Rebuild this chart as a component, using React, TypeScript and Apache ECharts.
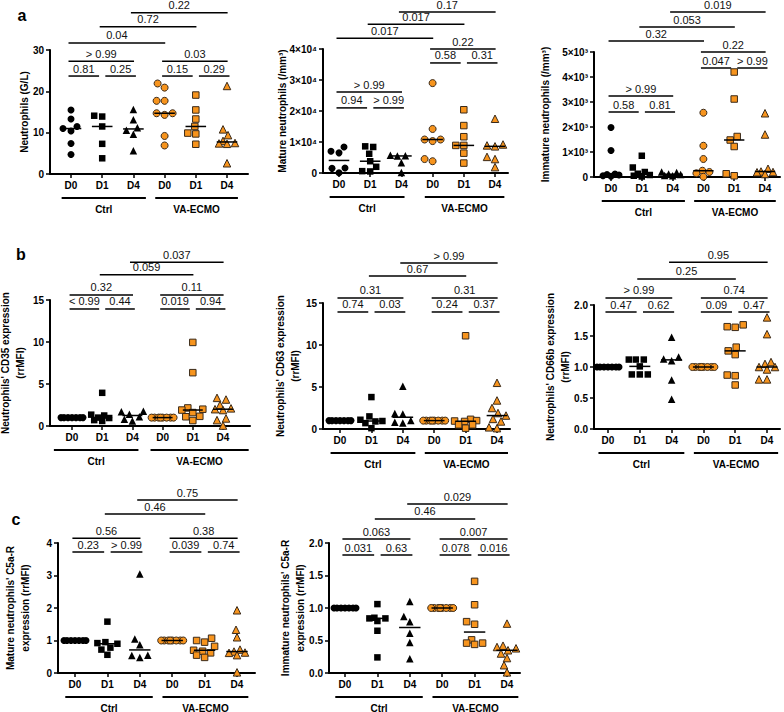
import { useEffect, useRef } from "react";
import * as echarts from "echarts";

// ---------- categories ----------
const days = ["D0", "D1", "D4", "D0", "D1", "D4"];
const groups = ["Ctrl", "VA-ECMO"];

// ---------- values (Ctrl D0, D1, D4, VA-ECMO D0, D1, D4) ----------
const neutrophilsGL = [
  [15.5, 13.3, 11.5, 11.0, 10.4, 7.4, 4.7],
  [14.1, 13.9, 11.5, 7.3, 3.8],
  [15.6, 13.1, 11.2, 10.6, 9.6, 5.6],
  [21.9, 20.9, 17.7, 17.7, 14.7, 14.7, 14.3, 9.2, 6.9],
  [19.1, 15.5, 13.3, 11.5, 9.9, 9.7, 7.2],
  [21.3, 10.8, 9.4, 8.0, 7.5, 7.4, 7.3, 2.6],
];
const matureNeut = [
  [8400, 7000, 6500, 1600, 1500, 100],
  [8600, 8400, 6200, 3800, 2000, 600, 500],
  [5700, 5600, 5500, 3300, 200],
  [29000, 14200, 10800, 10800, 10300, 4500, 3800],
  [20400, 15300, 11700, 8900, 8900, 6400, 3200],
  [17500, 9200, 8900, 8600, 5200, 4500, 1900],
];
const immatureNeut = [
  [1980, 1060, 120, 100, 80, 50, 30],
  [850, 380, 200, 130, 80, 50, 20],
  [200, 180, 120, 100, 60, 50],
  [2570, 1250, 720, 250, 200, 150, 10],
  [4200, 3120, 1620, 1480, 1220, 130, 50],
  [2550, 1700, 330, 220, 200, 190, 120],
];
const cd35 = [
  [1, 1, 1, 1, 1, 1, 1],
  [3.95, 1.35, 1.25, 1.0, 0.95, 0.7, 0.6],
  [1.75, 1.7, 1.4, 1.1, 0.8, 0.6],
  [1, 1, 1, 1, 1, 1, 1, 1],
  [9.95, 6.35, 2.15, 2.0, 1.9, 1.6, 1.15, 1.1, 0.65],
  [3.35, 3.15, 2.5, 2.1, 2.0, 1.9, 0.9, 0.7, 0.05],
];
const cd63 = [
  [1, 1, 1, 1, 1, 1, 1],
  [3.8, 1.5, 1.1, 0.95, 0.9, 0.7, 0.1],
  [5.1, 1.85, 1.8, 1.0, 0.8, 0.7],
  [1, 1, 1, 1, 1, 1, 1, 1],
  [11.1, 1.15, 1.0, 0.95, 0.9, 0.5, 0.5, 0.1],
  [5.5, 3.4, 2.5, 1.9, 1.6, 1.2, 0.9, 0.2, 0.1],
];
const cd66b = [
  [1, 1, 1, 1, 1, 1, 1],
  [1.12, 1.12, 1.12, 1.01, 0.88, 0.88, 0.88],
  [1.48, 1.16, 1.13, 1.1, 0.79, 0.48],
  [1, 1, 1, 1, 1, 1, 1, 1],
  [1.68, 1.65, 1.64, 1.32, 1.26, 1.2, 0.87, 0.86, 0.71],
  [1.8, 1.53, 1.08, 1.05, 1.0, 1.0, 0.96, 0.8, 0.8],
];
const matureC5aR = [
  [1, 1, 1, 1, 1, 1, 1],
  [1.58, 0.95, 0.92, 0.9, 0.78, 0.72, 0.56],
  [3.05, 1.05, 0.87, 0.55, 0.54, 0.48],
  [1, 1, 1, 1, 1, 1, 1, 1],
  [1.07, 1.0, 0.95, 0.82, 0.7, 0.67, 0.62, 0.55, 0.48],
  [1.93, 1.33, 1.1, 0.72, 0.66, 0.63, 0.62, 0.55, 0.02],
];
const immatureC5aR = [
  [1, 1, 1, 1, 1, 1, 1],
  [1.06, 0.85, 0.84, 0.84, 0.8, 0.65, 0.24],
  [1.1, 0.87, 0.79, 0.61, 0.47, 0.22],
  [1, 1, 1, 1, 1, 1, 1, 1],
  [1.41, 1.05, 0.79, 0.75, 0.51, 0.46, 0.46, 0.44],
  [0.76, 0.42, 0.4, 0.38, 0.35, 0.3, 0.23, 0.12, 0.01],
];

// ---------- p-values: [from category, to category, label] ----------
const neutrophilsGLP: [number, number, string][] = [
  [0, 1, "0.81"], [1, 2, "0.25"], [0, 2, "> 0.99"],
  [3, 4, "0.15"], [4, 5, "0.29"], [3, 5, "0.03"],
  [0, 3, "0.04"], [1, 4, "0.72"], [2, 5, "0.22"],
];
const matureNeutP: [number, number, string][] = [
  [0, 1, "0.94"], [1, 2, "> 0.99"], [0, 2, "> 0.99"],
  [3, 4, "0.58"], [4, 5, "0.31"], [3, 5, "0.22"],
  [0, 3, "0.017"], [1, 4, "0.017"], [2, 5, "0.17"],
];
const immatureNeutP: [number, number, string][] = [
  [0, 1, "0.58"], [1, 2, "0.81"], [0, 2, "> 0.99"],
  [3, 4, "0.047"], [4, 5, "> 0.99"], [3, 5, "0.22"],
  [0, 3, "0.32"], [1, 4, "0.053"], [2, 5, "0.019"],
];
const cd35P: [number, number, string][] = [
  [0, 1, "< 0.99"], [1, 2, "0.44"], [0, 2, "0.32"],
  [3, 4, "0.019"], [4, 5, "0.94"], [3, 5, "0.11"],
  [1, 4, "0.059"], [2, 5, "0.037"],
];
const cd63P: [number, number, string][] = [
  [0, 1, "0.74"], [1, 2, "0.03"], [0, 2, "0.31"],
  [3, 4, "0.24"], [4, 5, "0.37"], [3, 5, "0.31"],
  [1, 4, "0.67"], [2, 5, "> 0.99"],
];
const cd66bP: [number, number, string][] = [
  [0, 1, "0.47"], [1, 2, "0.62"], [0, 2, "> 0.99"],
  [3, 4, "0.09"], [4, 5, "0.47"], [3, 5, "0.74"],
  [1, 4, "0.25"], [2, 5, "0.95"],
];
const matureC5aRP: [number, number, string][] = [
  [0, 1, "0.23"], [1, 2, "> 0.99"], [0, 2, "0.56"],
  [3, 4, "0.039"], [4, 5, "0.74"], [3, 5, "0.38"],
  [1, 4, "0.46"], [2, 5, "0.75"],
];
const immatureC5aRP: [number, number, string][] = [
  [0, 1, "0.031"], [1, 2, "0.63"], [0, 2, "0.063"],
  [3, 4, "0.078"], [4, 5, "0.016"], [3, 5, "0.007"],
  [1, 4, "0.46"], [2, 5, "0.029"],
];

// ---------- axis titles ----------
const titles = [
  ["Neutrophils (G/L)"],
  ["Mature neutrophils (/mm³)"],
  ["Immature neutrophils (/mm³)"],
  ["Neutrophils' CD35 expression", "(rrMFI)"],
  ["Neutrophils' CD63 expression", "(rrMFI)"],
  ["Neutrophils' CD66b expression", "(rrMFI)"],
  ["Mature neutrophils' C5a-R", "expression (rrMFI)"],
  ["Immature neutrophils' C5a-R", "expression (rrMFI)"],
];
const panelLetters = ["a", "b", "c"];

// ---------- layout (pixels) ----------
const FONT = '"Liberation Sans", Arial, Helvetica, sans-serif';
const ORANGE = "#f7941d";

const plain = (v: number) => String(v);
const oneDec = (v: number) => v.toFixed(1);
const sci4 = (v: number) => (v === 0 ? "0" : `${v / 10000}×10⁴`);
const sci3 = (v: number) => (v === 0 ? "0" : `${v / 1000}×10³`);

const defaultSpans = [
  [-0.3, 2.4],
  [2.7, 5.35],
];

const layouts = [
  { axisX: 50, axisEnd: 248, yTop: 50, yBot: 174, x0: 71, dx: 31.2, max: 30, interval: 10, fmt: plain, tx: 24, spans: defaultSpans, levels: [23.7, 23.7, 27.3, 23.7, 23.7, 27.3, 31.7, 35.6, 39.0] },
  { axisX: 323, axisEnd: 508, yTop: 49, yBot: 173, x0: 339, dx: 31.2, max: 40000, interval: 10000, fmt: sci4, tx: 282, spans: [[-0.3, 2.1], [2.75, 5.3]], levels: [21000, 21000, 26100, 35500, 35500, 40000, 43500, 48000, 51900] },
  { axisX: 594, axisEnd: 780, yTop: 52, yBot: 177, x0: 611, dx: 30.8, max: 5000, interval: 1000, fmt: sci3, tx: 545, spans: defaultSpans, levels: [2600, 2600, 3240, 4360, 4360, 5000, 5440, 6000, 6600] },
  { axisX: 50, axisEnd: 250, yTop: 300, yBot: 426, x0: 72, dx: 30.2, max: 15, interval: 5, fmt: plain, tx: 13, spans: [[-0.6, 2.2], [2.6, 5.85]], levels: [13.93, 13.93, 15.6, 13.93, 13.93, 15.6, 18.0, 19.5] },
  { axisX: 323, axisEnd: 510, yTop: 303, yBot: 429, x0: 340, dx: 31.4, max: 15, interval: 5, fmt: plain, tx: 288, spans: defaultSpans, levels: [13.93, 13.93, 15.6, 13.93, 13.93, 15.6, 18.2, 19.76] },
  { axisX: 594, axisEnd: 780, yTop: 305, yBot: 429, x0: 608, dx: 31.8, max: 2, interval: 0.5, fmt: oneDec, tx: 558, spans: defaultSpans, levels: [1.887, 1.887, 2.113, 1.887, 1.887, 2.113, 2.42, 2.69] },
  { axisX: 58, axisEnd: 255, yTop: 543, yBot: 673, x0: 75, dx: 32.4, max: 4, interval: 1, fmt: plain, tx: 18, spans: defaultSpans, levels: [3.72, 3.72, 4.15, 3.72, 3.72, 4.15, 4.89, 5.32] },
  { axisX: 329, axisEnd: 520, yTop: 543, yBot: 673, x0: 345, dx: 32.4, max: 2, interval: 0.5, fmt: oneDec, tx: 293, spans: defaultSpans, levels: [1.815, 1.815, 2.06, 1.815, 1.815, 2.06, 2.37, 2.6] },
];
const letterPos = [
  [22, 15],
  [21, 254],
  [16, 519],
];

const panelValues = [neutrophilsGL, matureNeut, immatureNeut, cd35, cd63, cd66b, matureC5aR, immatureC5aR];
const panelP = [neutrophilsGLP, matureNeutP, immatureNeutP, cd35P, cd63P, cd66bP, matureC5aRP, immatureC5aRP];

const shapes = ["circle", "rect", "triangle"];
const sizes = [7, 6.5, 7.5];

function median(a: number[]) {
  const s = [...a].sort((x, y) => x - y);
  const n = s.length;
  return n % 2 ? s[(n - 1) / 2] : (s[n / 2 - 1] + s[n / 2]) / 2;
}

// simple beeswarm: horizontal pixel offsets limited to +/- maxOff
function swarm(values: number[], yScale: number, maxOff = 11, d = 7.5) {
  const idx = values.map((_, i) => i).sort((a, b) => values[a] - values[b]);
  const placed: { x: number; y: number }[] = [];
  const out = new Array(values.length).fill(0);
  const cands: number[] = [0];
  for (let k = 1; k <= maxOff; k++) cands.push(-k, k);
  for (const i of idx) {
    const y = values[i] * yScale;
    let best = 0;
    let bestScore = -1;
    for (const c of cands) {
      let m = Infinity;
      for (const p of placed) m = Math.min(m, Math.hypot(p.x - c, p.y - y));
      if (m >= d) {
        best = c;
        break;
      }
      if (m > bestScore + 1e-9) {
        bestScore = m;
        best = c;
      }
    }
    placed.push({ x: best, y });
    out[i] = best;
  }
  return out;
}

function buildOption() {
  const grid: any[] = [];
  const xAxis: any[] = [];
  const yAxis: any[] = [];
  const series: any[] = [];
  const graphic: any[] = [];
  const catIdx = [0, 1, 2, 3, 4, 5];
  const axisLineStyle = { color: "#000", width: 2 };

  layouts.forEach((L, i) => {
    const values = panelValues[i];
    const pv = panelP[i];
    grid.push({ left: L.axisX, top: L.yTop, width: L.axisEnd - L.axisX, height: L.yBot - L.yTop });
    xAxis.push({
      gridIndex: i,
      type: "value",
      min: -(L.x0 - L.axisX) / L.dx,
      max: (L.axisEnd - L.x0) / L.dx,
      axisLine: { show: true, onZero: false, lineStyle: axisLineStyle },
      axisTick: { show: true, customValues: catIdx, length: 4, lineStyle: { color: "#000", width: 1.5 } },
      axisLabel: {
        show: true,
        customValues: catIdx,
        formatter: (v: number) => days[Math.round(v)],
        fontFamily: FONT,
        fontWeight: "bold",
        fontSize: 10,
        color: "#000",
        margin: 6,
      },
      splitLine: { show: false },
    });
    yAxis.push({
      gridIndex: i,
      type: "value",
      min: 0,
      max: L.max,
      interval: L.interval,
      axisLine: { show: true, onZero: false, lineStyle: axisLineStyle },
      axisTick: { show: true, length: 4, lineStyle: { color: "#000", width: 1.5 } },
      axisLabel: { formatter: L.fmt, fontFamily: FONT, fontWeight: "bold", fontSize: 10, color: "#000", margin: 6 },
      splitLine: { show: false },
    });

    const yScale = (L.yBot - L.yTop) / L.max;
    values.forEach((vals, c) => {
      const offs = swarm(vals, yScale);
      series.push({
        type: "scatter",
        xAxisIndex: i,
        yAxisIndex: i,
        symbol: shapes[c % 3],
        symbolSize: sizes[c % 3],
        clip: false,
        silent: true,
        z: 3,
        itemStyle:
          c < 3
            ? { color: "#000", borderWidth: 0, opacity: 1 }
            : { color: ORANGE, borderColor: "#3a2a1a", borderWidth: 1, opacity: 1 },
        data: vals.map((v, k) => [c + offs[k] / L.dx, v]),
      });
    });

    // medians
    series.push({
      type: "custom",
      xAxisIndex: i,
      yAxisIndex: i,
      silent: true,
      z: 5,
      encode: { x: 0, y: 1 },
      data: values.map((vals, c) => [c, median(vals)]),
      renderItem: (_p: any, api: any) => {
        const a = api.coord([api.value(0) - 0.33, api.value(1)]);
        const b = api.coord([api.value(0) + 0.33, api.value(1)]);
        return {
          type: "line",
          shape: { x1: a[0], y1: a[1], x2: b[0], y2: b[1] },
          style: { stroke: "#000", lineWidth: 1.5 },
        };
      },
    });

    // significance brackets
    series.push({
      type: "custom",
      xAxisIndex: i,
      yAxisIndex: i,
      silent: true,
      z: 5,
      clip: false,
      encode: { x: [0, 1], y: 2 },
      data: pv.map((b, k) => [b[0], b[1], L.levels[k], k]),
      renderItem: (_p: any, api: any) => {
        const k = api.value(3);
        const [f, t, lab] = pv[k];
        let x1 = f - 0.08;
        let x2 = t + 0.02;
        if (t - f === 1) {
          if (f === 0 || f === 3) x2 = t - 0.1;
          else {
            x1 = f + 0.1;
            x2 = t + 0.08;
          }
        }
        const a = api.coord([x1, api.value(2)]);
        const b = api.coord([x2, api.value(2)]);
        return {
          type: "group",
          children: [
            { type: "line", shape: { x1: a[0], y1: a[1], x2: b[0], y2: a[1] }, style: { stroke: "#000", lineWidth: 1.5 } },
            {
              type: "text",
              x: (a[0] + b[0]) / 2,
              y: a[1] - 2,
              style: {
                text: lab,
                align: "center",
                verticalAlign: "bottom",
                textAlign: "center",
                textVerticalAlign: "bottom",
                font: `11px ${FONT}`,
                fill: "#111",
              },
            },
          ],
        };
      },
    });

    // group underlines + labels
    series.push({
      type: "custom",
      xAxisIndex: i,
      yAxisIndex: i,
      silent: true,
      clip: false,
      encode: { x: 0, y: 1 },
      data: [[0, 0]],
      renderItem: (_p: any, api: any) => {
        const children: any[] = [];
        L.spans.forEach((s, g) => {
          const a = api.coord([s[0], 0]);
          const b = api.coord([s[1], 0]);
          children.push({
            type: "line",
            shape: { x1: a[0], y1: a[1] + 24, x2: b[0], y2: a[1] + 24 },
            style: { stroke: "#000", lineWidth: 2 },
          });
          children.push({
            type: "text",
            x: (a[0] + b[0]) / 2,
            y: a[1] + 35,
            style: {
              text: groups[g],
              align: "center",
              verticalAlign: "middle",
              textAlign: "center",
              textVerticalAlign: "middle",
              font: `bold 10px ${FONT}`,
              fill: "#000",
            },
          });
        });
        return { type: "group", children };
      },
    });

    // y-axis title
    graphic.push({
      type: "text",
      x: L.tx,
      y: (L.yTop + L.yBot) / 2,
      rotation: Math.PI / 2,
      silent: true,
      style: {
        text: titles[i].join("\n"),
        font: `bold 10px ${FONT}`,
        fill: "#000",
        align: "center",
        verticalAlign: "middle",
        lineHeight: 15,
      },
    });
  });

  panelLetters.forEach((l, r) => {
    graphic.push({
      type: "text",
      x: letterPos[r][0],
      y: letterPos[r][1],
      silent: true,
      style: { text: l, font: `bold 16px ${FONT}`, fill: "#000", align: "center", verticalAlign: "middle" },
    });
  });

  return {
    animation: false,
    backgroundColor: "#fff",
    grid,
    xAxis,
    yAxis,
    series,
    graphic,
  };
}

export default function App() {
  const ref = useRef<HTMLDivElement>(null);
  useEffect(() => {
    document.body.style.margin = "0";
    if (!ref.current) return;
    const chart = echarts.init(ref.current, undefined, { renderer: "svg" });
    chart.setOption(buildOption() as any);
    return () => chart.dispose();
  }, []);
  return <div ref={ref} style={{ width: 784, height: 712 }} />;
}
